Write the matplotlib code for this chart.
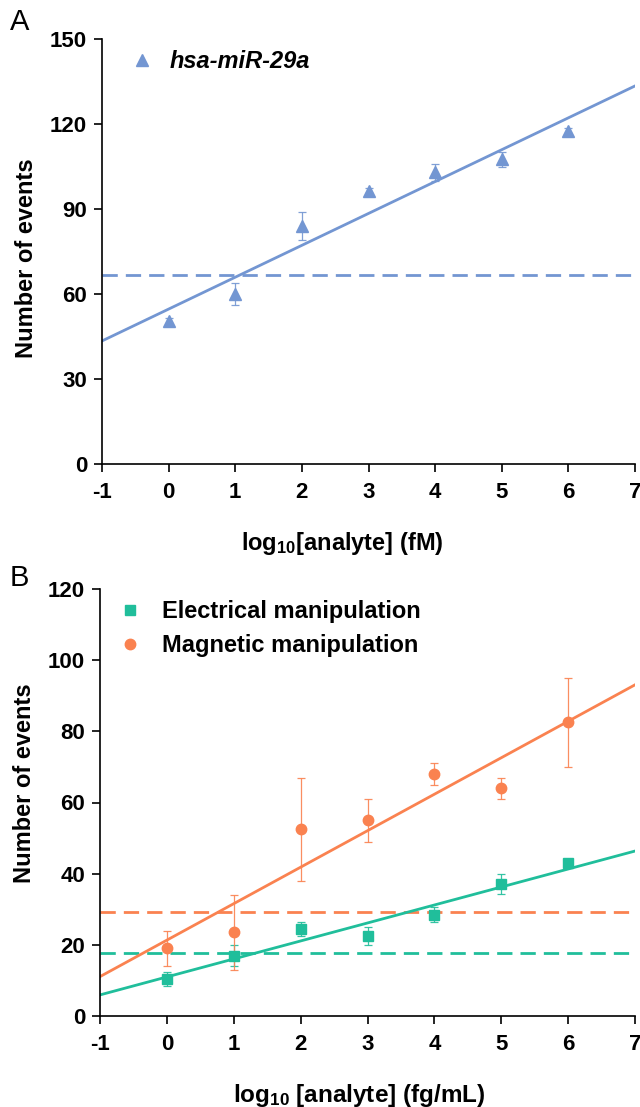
import numpy as np
import matplotlib
matplotlib.use("Agg")
import matplotlib.pyplot as plt

plt.rcParams['font.family'] = ['Liberation Sans', 'DejaVu Sans']
plt.rcParams['mathtext.fontset'] = 'custom'
plt.rcParams['mathtext.rm'] = 'Liberation Sans:bold'
plt.rcParams['mathtext.bf'] = 'Liberation Sans:bold'
plt.rcParams['mathtext.it'] = 'Liberation Sans:bold'

# ---- data ----
x_log = [0, 1, 2, 3, 4, 5, 6]

# Panel A
mir_label = "hsa-miR-29a"
mir_mean = [50.5, 60, 84, 96.5, 103, 107.5, 117.5]
mir_err = [1, 4, 5, 1, 3, 2.5, 1]
mir_cutoff = 66.7

# Panel B
elec_label = "Electrical manipulation"
elec_mean = [10.5, 17, 24.5, 22.5, 28.5, 37, 43]
elec_err = [2, 3, 2, 2.5, 2, 2.8, 1]
elec_cutoff = 17.8

mag_label = "Magnetic manipulation"
mag_mean = [19, 23.5, 52.5, 55, 68, 64, 82.5]
mag_err = [5, 10.5, 14.5, 6, 3, 3, 12.5]
mag_cutoff = 29.3

xticks = [-1, 0, 1, 2, 3, 4, 5, 6, 7]
yticks_a = [0, 30, 60, 90, 120, 150]
yticks_b = [0, 20, 40, 60, 80, 100, 120]

BLUE = "#7396D2"
GREEN = "#20BE9B"
ORANGE = "#FA8250"

W, H = 640, 1107
fig = plt.figure(figsize=(W / 100, H / 100), dpi=100)

def add_ax(l, t, r, b):
    return fig.add_axes([l / W, 1 - b / H, (r - l) / W, (b - t) / H])

axA = add_ax(102, 39, 635, 464)
axB = add_ax(100, 589, 635, 1016)

xfit = np.array([-1, 7])
DASH = (0, (5.5, 2.9))

def style(ax, yticks, ylim):
    ax.set_xlim(-1, 7)
    ax.set_ylim(*ylim)
    ax.set_xticks(xticks)
    ax.set_yticks(yticks)
    ax.set_xticklabels([str(v) for v in xticks])
    for s in ['top', 'right']:
        ax.spines[s].set_visible(False)
    for s in ['left', 'bottom']:
        ax.spines[s].set_linewidth(1.2)
        ax.spines[s].set_color('black')
    ax.tick_params(axis='both', direction='out', length=5.8, width=1.2,
                   labelsize=16, colors='black')
    ax.tick_params(axis='x', pad=7)
    ax.tick_params(axis='y', pad=5)
    for lab in ax.get_xticklabels() + ax.get_yticklabels():
        lab.set_fontweight('bold')

def series(ax, mean, err, color, marker, ms, label):
    ax.errorbar(x_log, mean, yerr=err, fmt='none', ecolor=color, elinewidth=0.9,
                capsize=3, capthick=0.9, zorder=3, alpha=0.9)
    ax.plot(x_log, mean, linestyle='none', marker=marker, markersize=ms,
            color=color, label=label, zorder=4)
    k, b0 = np.polyfit(x_log, mean, 1)
    ax.plot(xfit, k * xfit + b0, color=color, linewidth=2.0, zorder=2)

# Panel A
style(axA, yticks_a, (0, 150))
series(axA, mir_mean, mir_err, BLUE, '^', 8, mir_label)
axA.axhline(mir_cutoff, color=BLUE, linewidth=2.0, linestyle=DASH, zorder=1)
axA.set_xlabel(r'log$_{\mathbf{10}}$[analyte] (fM)', fontsize=17, fontweight='bold')
axA.xaxis.set_label_coords(0.45, -0.155)
axA.set_ylabel('Number of events', fontsize=17, fontweight='bold')
axA.yaxis.set_label_coords(-0.12, 0.485)
axA.legend(loc='center left', bbox_to_anchor=(0.053, 0.946), frameon=False,
           borderpad=0, borderaxespad=0, handlelength=1.0, handletextpad=0.65,
           prop={'size': 17, 'weight': 'bold', 'style': 'italic'})

# Panel B
style(axB, yticks_b, (0, 120))
series(axB, elec_mean, elec_err, GREEN, 's', 6.5, elec_label)
series(axB, mag_mean, mag_err, ORANGE, 'o', 7.5, mag_label)
axB.axhline(mag_cutoff, color=ORANGE, linewidth=2.0, linestyle=DASH, zorder=1)
axB.axhline(elec_cutoff, color=GREEN, linewidth=2.0, linestyle=DASH, zorder=1)
axB.set_xlabel(r'log$_{\mathbf{10}}$ [analyte] (fg/mL)', fontsize=17.5, fontweight='bold')
axB.xaxis.set_label_coords(0.484, -0.155)
axB.set_ylabel('Number of events', fontsize=17, fontweight='bold')
axB.yaxis.set_label_coords(-0.12, 0.546)
axB.legend(loc='center left', bbox_to_anchor=(0.034, 0.9075), frameon=False,
           borderpad=0, borderaxespad=0, handlelength=1.0, handletextpad=0.85,
           labelspacing=0.45, prop={'size': 17, 'weight': 'bold'})

fig.text(10 / W, 1 - 22 / H, 'A', fontsize=21, va='center', ha='left')
fig.text(10 / W, 1 - 578 / H, 'B', fontsize=21, va='center', ha='left')

fig.savefig('out.png', dpi=100)
